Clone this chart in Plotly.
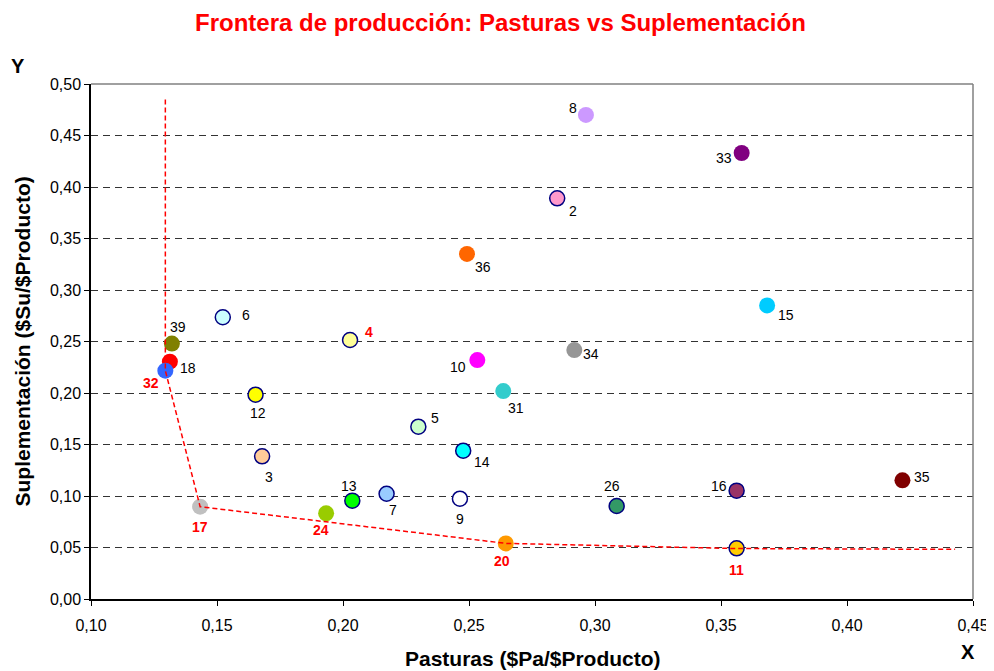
import plotly.graph_objects as go

# ---- data ----
point_ids = ["8", "2", "36", "33", "15", "6", "39", "18", "32", "4", "12", "3", "17", "24",
             "13", "10", "34", "31", "5", "14", "7", "9", "20", "26", "16", "11", "35"]
pasturas = [0.2964, 0.2850, 0.2492, 0.3582, 0.3683, 0.1523, 0.1321, 0.1313, 0.1295, 0.2028,
            0.1653, 0.1679, 0.1433, 0.1933, 0.2037, 0.2533, 0.2918, 0.2636, 0.2299, 0.2477,
            0.2173, 0.2464, 0.2646, 0.3086, 0.3562, 0.3562, 0.4220]
suplementacion = [0.470, 0.389, 0.335, 0.433, 0.285, 0.2735, 0.248, 0.2304, 0.2217, 0.2515,
                  0.1984, 0.1385, 0.0896, 0.0832, 0.0955, 0.232, 0.2417, 0.2019, 0.1673, 0.144,
                  0.1022, 0.0974, 0.054, 0.0903, 0.1052, 0.0492, 0.1152]
frontier_x = [0.1295, 0.1295, 0.1433, 0.2646, 0.3562, 0.4429]
frontier_y = [0.485, 0.2217, 0.0896, 0.054, 0.049, 0.0482]
x_ticks = [0.10, 0.15, 0.20, 0.25, 0.30, 0.35, 0.40, 0.45]
y_ticks = [0.00, 0.05, 0.10, 0.15, 0.20, 0.25, 0.30, 0.35, 0.40, 0.45, 0.50]

# ---- styles ----
fill_colors = {
    "8": "#CC99FF", "2": "#FF99CC", "36": "#FF6600", "33": "#800080", "15": "#00CCFF",
    "6": "#CCFFFF", "39": "#808000", "18": "#FF0000", "32": "#3366FF", "4": "#FFFF99",
    "12": "#FFFF00", "3": "#FFCC99", "17": "#C0C0C0", "24": "#99CC00", "13": "#00FF00",
    "10": "#FF00FF", "34": "#969696", "31": "#33CCCC", "5": "#CCFFCC", "14": "#00FFFF",
    "7": "#99CCFF", "9": "#FFFFFF", "20": "#FF9900", "26": "#339966", "16": "#993366",
    "11": "#FFCC00", "35": "#800000",
}
outlined = {"2", "6", "4", "12", "3", "13", "5", "14", "7", "9", "26", "16", "11"}
red_labels = {"4", "32", "17", "24", "20", "11"}
label_offsets = {  # pixel offsets (dx, dy-down) of label centre from point centre
    "8": (-13, -7), "2": (16, 13), "36": (16, 13), "33": (-18, 5), "15": (19, 10),
    "6": (23, -2), "39": (6, -17), "18": (18, 6), "32": (-14, 12), "4": (19, -8),
    "12": (2, 18), "3": (7, 21), "17": (0, 20), "24": (-5, 17), "13": (-3, -15),
    "10": (-19, 7), "34": (17, 4), "31": (13, 17), "5": (17, -9), "14": (19, 11),
    "7": (6, 16), "9": (0, 20), "20": (-4, 18), "26": (-5, -20), "16": (-18, -5),
    "11": (0, 22), "35": (20, -3),
}

FONT = "Liberation Sans, Arial, sans-serif"

fig = go.Figure()

fig.add_trace(go.Scatter(
    x=pasturas, y=suplementacion, mode="markers",
    marker=dict(
        size=[15 if p in outlined else 16 for p in point_ids],
        color=[fill_colors[p] for p in point_ids],
        line=dict(color=["#000080" if p in outlined else "rgba(0,0,0,0)" for p in point_ids],
                  width=[1.5 if p in outlined else 0 for p in point_ids]),
        opacity=1,
    ),
    hoverinfo="skip", showlegend=False,
))

fig.add_trace(go.Scatter(
    x=frontier_x, y=frontier_y, mode="lines",
    line=dict(color="#FF0000", width=1.5, dash="5px,3px"),
    hoverinfo="skip", showlegend=False,
))

for p, xv, yv in zip(point_ids, pasturas, suplementacion):
    dx, dy = label_offsets[p]
    red = p in red_labels
    fig.add_annotation(
        x=xv, y=yv, xref="x", yref="y", text=f"<b>{p}</b>" if red else p,
        showarrow=False, xshift=dx, yshift=-dy, xanchor="center", yanchor="middle",
        font=dict(family=FONT, size=14, color="#FF0000" if red else "#000000"),
    )

# top & right plot-area border (gray)
fig.add_shape(type="line", xref="x domain", yref="y domain", x0=0, x1=1, y0=1, y1=1,
              line=dict(color="#808080", width=1.5), layer="above")
fig.add_shape(type="line", xref="x domain", yref="y domain", x0=1, x1=1, y0=0, y1=1,
              line=dict(color="#808080", width=1.5), layer="above")

# title and axis titles
fig.add_annotation(text="<b>Frontera de producción: Pasturas vs Suplementación</b>",
                   xref="paper", yref="paper", x=0.5, y=1, xshift=-32, yshift=62,
                   xanchor="center", yanchor="middle", showarrow=False,
                   font=dict(family=FONT, size=24, color="#FF0000"))
fig.add_annotation(text="<b>Suplementación ($Su/$Producto)</b>", textangle=-90,
                   xref="paper", yref="paper", x=0, xshift=-69, y=0.5,
                   xanchor="center", yanchor="middle", showarrow=False,
                   font=dict(family=FONT, size=21, color="#000000"))
fig.add_annotation(text="<b>Pasturas ($Pa/$Producto)</b>",
                   xref="paper", yref="paper", x=0.5, xshift=1, y=0, yshift=-59,
                   xanchor="center", yanchor="middle", showarrow=False,
                   font=dict(family=FONT, size=21, color="#000000"))
fig.add_annotation(text="<b>Y</b>", xref="paper", yref="paper", x=0, xshift=-73, y=1, yshift=18,
                   xanchor="center", yanchor="middle",
                   showarrow=False, font=dict(family=FONT, size=20, color="#000000"))
fig.add_annotation(text="<b>X</b>", xref="paper", yref="paper", x=1, xshift=-5, y=0, yshift=-53,
                   xanchor="center", yanchor="middle",
                   showarrow=False, font=dict(family=FONT, size=20, color="#000000"))

fig.update_layout(
    width=986, height=663,
    margin=dict(l=83, r=21, t=76, b=72),
    paper_bgcolor="white", plot_bgcolor="white",
    separators=",.",
    font=dict(family=FONT, size=15, color="#000000"),
    xaxis=dict(range=[0.10, 0.45], tickvals=x_ticks, tickformat=".2f", automargin=False,
               showgrid=False, zeroline=False, showline=True, linecolor="#000000", linewidth=1.5,
               ticks="outside", ticklen=5, tickcolor="#000000", tickwidth=1,
               tickfont=dict(family=FONT, size=16), ticklabelstandoff=6),
    yaxis=dict(range=[0.0, 0.50], tickvals=y_ticks, tickformat=".2f", automargin=False,
               showgrid=True, gridcolor="#333333", griddash="7px,5px", gridwidth=1,
               zeroline=False, showline=True, linecolor="#000000", linewidth=1.5,
               ticks="outside", ticklen=5, tickcolor="#000000", tickwidth=1,
               tickfont=dict(family=FONT, size=16)),
)

fig.write_html("out.html")
